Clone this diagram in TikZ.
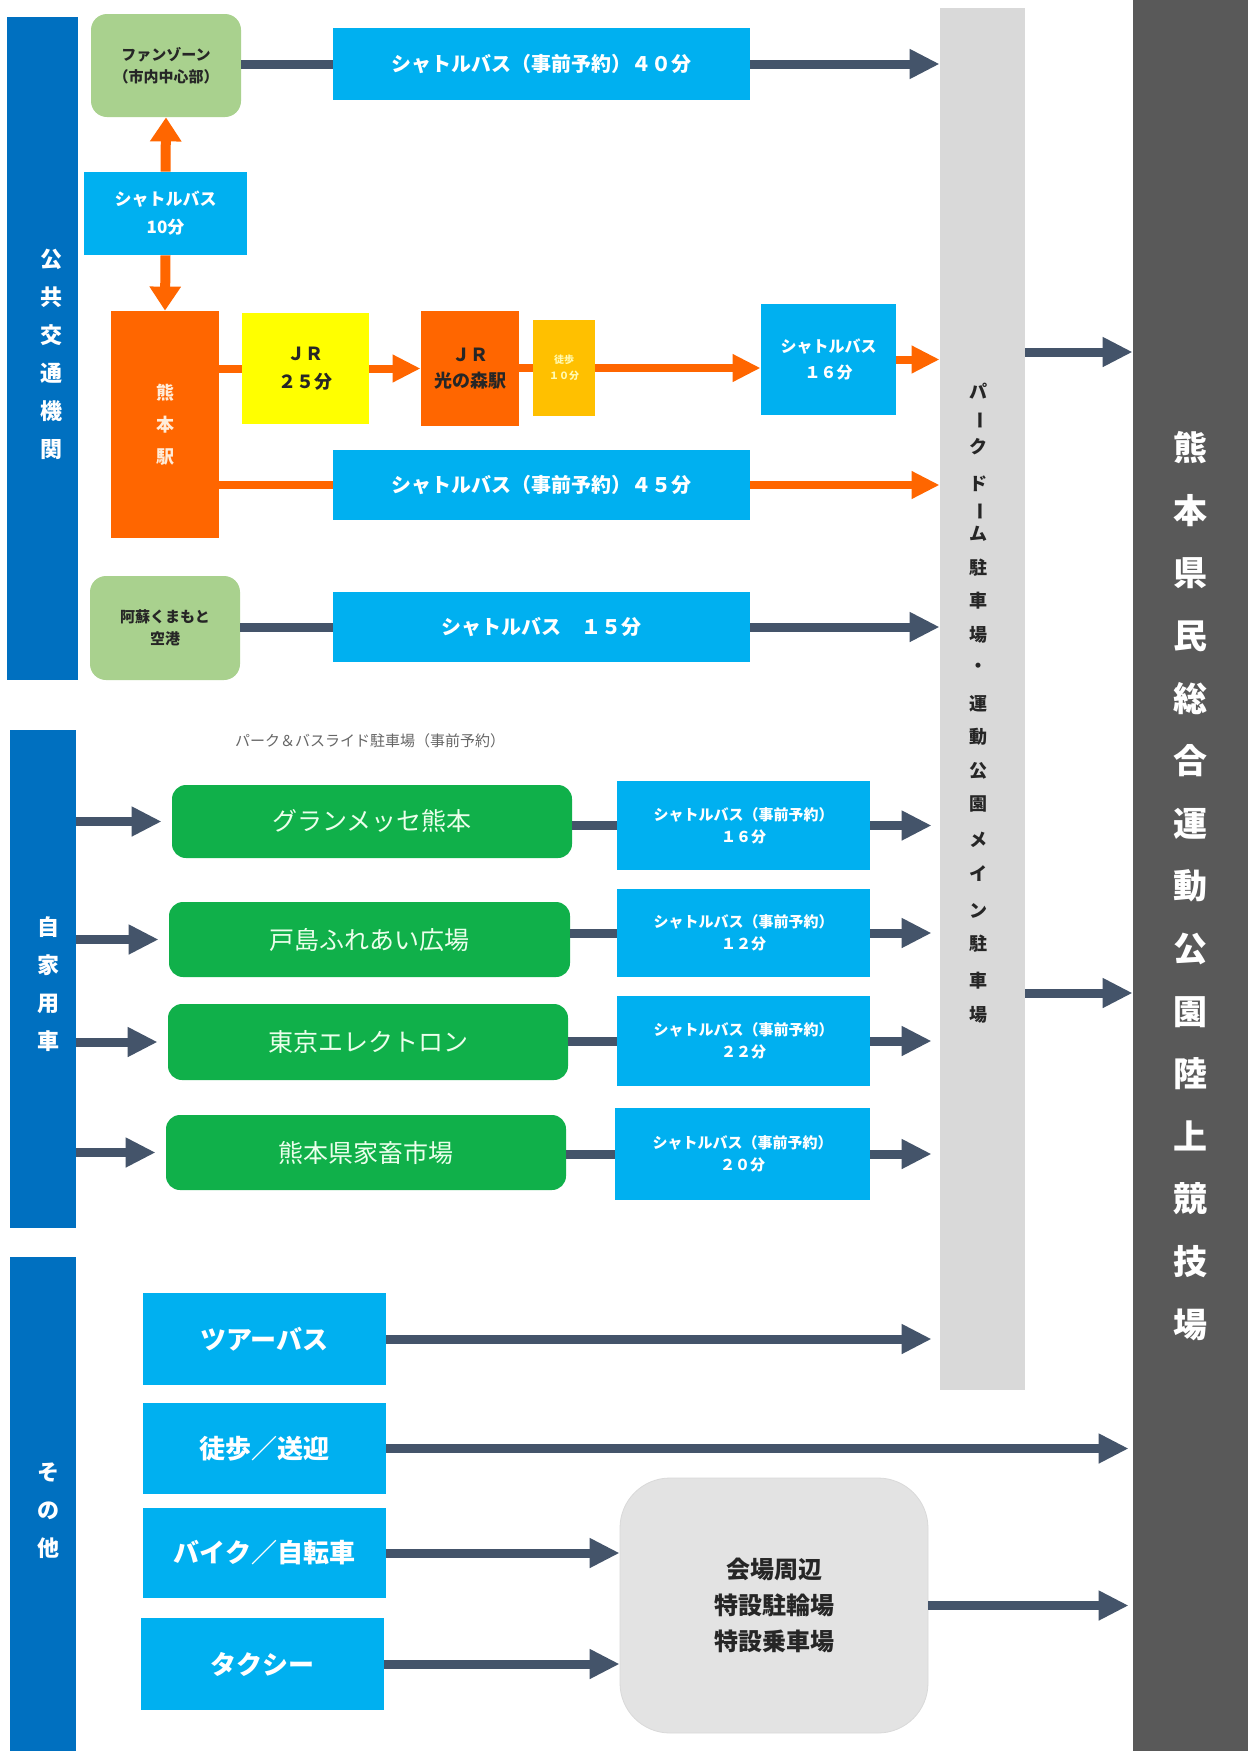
\documentclass[tikz,border=0pt]{standalone}
\usepackage{fontspec}
\setmainfont{Noto Sans CJK JP}
\usetikzlibrary{arrows.meta}
\definecolor{catblue}{HTML}{0070C0}
\definecolor{cyanb}{HTML}{00B0F0}
\definecolor{arrdark}{HTML}{44546A}
\definecolor{orng}{HTML}{FF6600}
\definecolor{yel}{HTML}{FFFF00}
\definecolor{goldc}{HTML}{FFC000}
\definecolor{lgreen}{HTML}{A9D18E}
\definecolor{grn}{HTML}{10B04A}
\definecolor{lgrey}{HTML}{D9D9D9}
\definecolor{dgrey}{HTML}{595959}
\definecolor{boxgrey}{HTML}{E3E3E3}
\newcommand\mybox[7]{\node[#2, minimum width={(#5-#3)*0.5pt}, minimum height={(#6-#4)*0.5pt}, inner sep=0pt] (#1) at ({(#3+#5)/2},{(#4+#6)/2}) {#7};}
\tikzset{
  catbar/.style={fill=catblue},
  cattext/.style={text=white, align=center, font=\fontsize{11}{19}\selectfont\bfseries},
  cyanbox/.style={fill=cyanb, text=white, align=center, font=\fontsize{10}{14}\selectfont\bfseries},
  cyansmall/.style={fill=cyanb, text=white, align=center, font=\fontsize{7.5}{11}\selectfont\bfseries},
  cyanbig/.style={fill=cyanb, text=white, align=center, font=\fontsize{13}{16}\selectfont\bfseries},
  lgbox/.style={fill=lgreen, rounded corners=8pt, text=black!85, align=center, font=\fontsize{7.5}{11}\selectfont\bfseries},
  grbox/.style={fill=grn, rounded corners=7pt, text=white!92!green, align=center, font=\fontsize{12.5}{15}\selectfont},
  orbox/.style={fill=orng, align=center, font=\fontsize{9}{13}\selectfont\bfseries},
  parkchar/.style={text=black!85, inner sep=0pt, font=\fontsize{9}{11}\selectfont\bfseries},
  darrow/.style={draw=arrdark, line width=4.5pt, -{Triangle[length=15pt,width=14pt]}},
  dline/.style={draw=arrdark, line width=4.5pt},
  oarrow/.style={draw=orng, line width=4pt, -{Triangle[length=14pt,width=13pt]}},
  oline/.style={draw=orng, line width=4pt},
}
\begin{document}
\begin{tikzpicture}[x=0.5pt,y=-0.5pt]
\fill[white] (0,0) rectangle (1252,1751);
\useasboundingbox (0,0) rectangle (1252,1751);
% right bars
\mybox{dbar}{fill=dgrey}{1133}{0}{1248}{1751}{}
\node[text=white, align=center, font=\fontsize{17}{31.3}\selectfont\bfseries] (venue) at (1190,886) {熊\\本\\県\\民\\総\\合\\運\\動\\公\\園\\陸\\上\\競\\技\\場};
\mybox{gbar}{fill=lgrey}{940}{8}{1025}{1390}{}
\foreach \yy/\ch [count=\k] in {391/パ,447/ク,484/ド,534/ム,568/駐,601/車,635/場,668/・,704/運,737/動,771/公,804/園,840/メ,874/イ,911/ン,944/駐,981/車,1015/場}
  \node[parkchar] (pk\k) at (978,\yy) {\ch};
\node[parkchar, rotate=-90] (pkbar1) at (978,420) {ー};
\node[parkchar, rotate=-90] (pkbar2) at (978,511) {ー};
% category bars
\mybox{pub}{catbar}{7}{17}{78}{680}{}
\node[cattext] (pubtxt) at (51,354) {公\\共\\交\\通\\機\\関};
\mybox{car}{catbar}{10}{730}{76}{1228}{}
\node[cattext] (cartxt) at (49,984) {自\\家\\用\\車};
\mybox{oth}{catbar}{10}{1257}{76}{1751}{}
\node[cattext] (othtxt) at (48,1511) {そ\\の\\他};
% public transport
\mybox{fan}{lgbox}{91}{14}{241}{117}{ファンゾーン\\（市内中心部）}
\mybox{b40}{cyanbox}{333}{28}{750}{100}{シャトルバス（事前予約）４０分}
\mybox{sb10}{cyanbox, font=\fontsize{8.5}{14}\selectfont\bfseries}{84}{172}{247}{255}{シャトルバス\\10分}
\mybox{kst}{orbox, text=orange!15, font=\fontsize{9}{16}\selectfont\bfseries}{111}{311}{219}{538}{熊\\本\\駅}
\mybox{jr25}{fill=yel, align=center, font=\fontsize{9}{14}\selectfont\bfseries, text=black!85}{242}{313}{369}{424}{ＪＲ\\２５分}
\mybox{hik}{orbox, text=black!85}{421}{311}{519}{426}{ＪＲ\\光の森駅}
\mybox{walk}{fill=goldc, align=center, text=yellow!30, font=\fontsize{5}{8}\selectfont\bfseries}{533}{320}{595}{416}{徒歩\\１０分}
\mybox{sb16}{cyanbox, font=\fontsize{8}{13}\selectfont\bfseries}{761}{304}{896}{415}{シャトルバス\\１６分}
\mybox{b45}{cyanbox}{333}{450}{750}{520}{シャトルバス（事前予約）４５分}
\mybox{air}{lgbox}{90}{576}{240}{680}{阿蘇くまもと\\空港}
\mybox{b15}{cyanbox}{333}{592}{750}{662}{シャトルバス　１５分}
% connectors public
\draw[dline] (fan.east |- b40.west) -- (b40.west);
\draw[darrow] (b40.east) -- (b40.east -| gbar.west);
\draw[oarrow, line width=5pt, -{Triangle[length=12pt,width=15pt]}] (sb10.north) -- (fan.south);
\draw[oarrow, line width=5pt, -{Triangle[length=12pt,width=15pt]}] (sb10.south) -- (kst.north);
\draw[oline] (kst.east |- jr25.west) -- (jr25.west);
\draw[oarrow] (jr25.east) -- (jr25.east -| hik.west);
\draw[oline] (hik.east |- walk.west) -- (walk.west);
\draw[oarrow] (walk.east) -- (walk.east -| sb16.west);
\draw[oarrow] (sb16.east) -- (sb16.east -| gbar.west);
\draw[oline] (kst.east |- b45.west) -- (b45.west);
\draw[oarrow] (b45.east) -- (b45.east -| gbar.west);
\draw[dline] (air.east |- b15.west) -- (b15.west);
\draw[darrow] (b15.east) -- (b15.east -| gbar.west);
\coordinate (g1) at (1025,352);
\coordinate (g2) at (1025,993);
\draw[darrow] (g1) -- (g1 -| dbar.west);
\draw[darrow] (g2) -- (g2 -| dbar.west);
% private cars
\node[text=black!60, font=\fontsize{7.5}{10}\selectfont, anchor=west] (prlabel) at (228,741) {パーク＆バスライド駐車場（事前予約）};
\mybox{p1}{grbox}{172}{785}{572}{858}{グランメッセ熊本}
\mybox{p2}{grbox}{169}{902}{570}{977}{戸島ふれあい広場}
\mybox{p3}{grbox}{168}{1004}{568}{1080}{東京エレクトロン}
\mybox{p4}{grbox}{166}{1115}{566}{1190}{熊本県家畜市場}
\mybox{s1}{cyansmall}{617}{781}{870}{870}{シャトルバス（事前予約）\\１６分}
\mybox{s2}{cyansmall}{617}{889}{870}{977}{シャトルバス（事前予約）\\１２分}
\mybox{s3}{cyansmall}{617}{996}{870}{1086}{シャトルバス（事前予約）\\２２分}
\mybox{s4}{cyansmall}{615}{1108}{870}{1200}{シャトルバス（事前予約）\\２０分}
\foreach \i in {1,...,4}{
  \draw[darrow, shorten >=5pt] (car.east |- p\i.west) -- (p\i.west);
  \draw[dline] (p\i.east |- s\i.west) -- (s\i.west);
  \draw[darrow, shorten >=4pt] (s\i.east) -- (s\i.east -| gbar.west);
}
% others
\mybox{tour}{cyanbig}{143}{1293}{386}{1385}{ツアーバス}
\mybox{wp}{cyanbig}{143}{1403}{386}{1494}{徒歩／送迎}
\mybox{bike}{cyanbig}{143}{1508}{386}{1598}{バイク／自転車}
\mybox{taxi}{cyanbig}{141}{1618}{384}{1710}{タクシー}
\mybox{spec}{fill=boxgrey, draw=black!15, rounded corners=25pt, align=center, text=black!85, font=\fontsize{12}{18}\selectfont\bfseries}{620}{1478}{928}{1733}{会場周辺\\特設駐輪場\\特設乗車場}
\draw[darrow, shorten >=4pt] (tour.east) -- (tour.east -| gbar.west);
\draw[darrow, shorten >=2pt] (wp.east) -- (wp.east -| dbar.west);
\draw[darrow] (bike.east) -- (bike.east -| spec.west);
\draw[darrow] (taxi.east) -- (taxi.east -| spec.west);
\draw[darrow, shorten >=2pt] (spec.east) -- (spec.east -| dbar.west);
\end{tikzpicture}
\end{document}
